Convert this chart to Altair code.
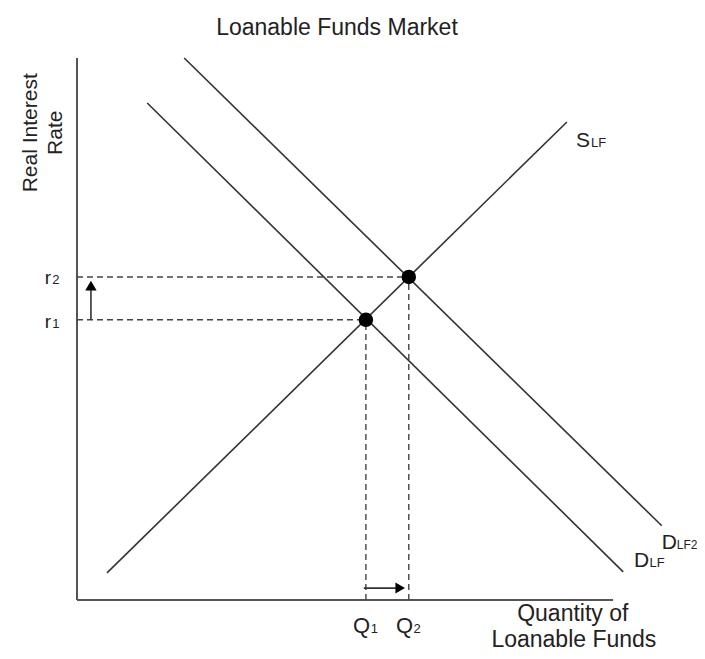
import altair as alt
import pandas as pd

# ---- curve end points (quantity, real interest rate) ----
supply_q = [5.6, 91.4]
supply_r = [5.0, 88.2]
demand1_q = [13.1, 101.9]
demand1_r = [91.7, 5.2]
demand2_q = [20.0, 109.1]
demand2_r = [100.0, 13.7]

# equilibrium points (E1, E2)
eq_q = [53.9, 61.9]
eq_r = [51.7, 59.6]

# shift arrows
rate_arrow_q = 2.6
rate_arrow_r = [51.7, 58.0]
qty_arrow_r = 2.2
qty_arrow_q = [53.5, 60.3]

# label texts
title_text = "Loanable Funds Market"
y_title = ["Real Interest", "Rate"]
x_title = ["Quantity of", "Loanable Funds"]

FONT = "Liberation Sans"
INK = "#222222"
LINE = "#333333"

xs = alt.Scale(domain=[0, 100], nice=False, zero=False)
ys = alt.Scale(domain=[0, 100], nice=False, zero=False)

curves = pd.DataFrame({
    "series": ["S"] * 2 + ["D1"] * 2 + ["D2"] * 2,
    "q": supply_q + demand1_q + demand2_q,
    "r": supply_r + demand1_r + demand2_r,
})
eq = pd.DataFrame({"q": eq_q, "r": eq_r})
axes_df = pd.DataFrame({"x": [0, 0], "x2": [0, 100], "y": [0, 0], "y2": [100, 0]})

X = lambda f: alt.X(f, type="quantitative", scale=xs, axis=None)
Y = lambda f: alt.Y(f, type="quantitative", scale=ys, axis=None)

axes = alt.Chart(axes_df).mark_rule(color="#555555", strokeWidth=2).encode(
    x=X("x"), x2="x2", y=Y("y"), y2="y2")

lines = alt.Chart(curves).mark_line(color=LINE, strokeWidth=1.6, clip=False).encode(
    x=X("q"), y=Y("r"), detail="series:N")

eq2 = eq.assign(zero=0.0)
hdash = alt.Chart(eq2).mark_rule(color="#444444", strokeWidth=1.4, strokeDash=[6, 4]).encode(
    x=X("zero"), x2="q", y=Y("r"))
vdash = alt.Chart(eq2).mark_rule(color="#444444", strokeWidth=1.4, strokeDash=[6, 4]).encode(
    x=X("q"), y=Y("zero"), y2="r")

dots = alt.Chart(eq).mark_circle(color="black", opacity=1, size=210).encode(
    x=X("q"), y=Y("r"))

up_df = pd.DataFrame({"q": [rate_arrow_q], "r": [rate_arrow_r[0]], "r2": [rate_arrow_r[1]]})
up_shaft = alt.Chart(up_df).mark_rule(color=LINE, strokeWidth=1.6).encode(
    x=X("q"), y=Y("r"), y2="r2")
up_head = alt.Chart(up_df).mark_point(shape="triangle-up", filled=True, color="black",
                                      opacity=1, size=130).encode(x=X("q"), y=Y("r2"))

rt_df = pd.DataFrame({"q": [qty_arrow_q[0]], "q2": [qty_arrow_q[1]], "r": [qty_arrow_r]})
rt_shaft = alt.Chart(rt_df).mark_rule(color=LINE, strokeWidth=1.6).encode(
    x=X("q"), x2="q2", y=Y("r"))
rt_head = alt.Chart(rt_df).mark_point(shape="triangle-right", filled=True, color="black",
                                      opacity=1, size=120).encode(x=X("q2"), y=Y("r"))

# letter labels with small subscripts (left-aligned, baseline)
main_lbl = pd.DataFrame({
    "t": ["S", "D", "D", "r", "r", "Q", "Q"],
    "x": [93.1, 109.1, 103.9, -6.0, -6.0, 51.5, 59.5],
    "y": [83.6, 9.4, 6.1, 58.3, 50.2, -6.1, -6.1],
    "fs": [21, 21, 21, 19, 19, 22, 22],
})
sub_lbl = pd.DataFrame({
    "t": ["LF", "LF2", "LF", "2", "1", "1", "2"],
    "x": [95.9, 111.9, 106.8, -4.6, -4.6, 54.8, 62.8],
    "y": [83.6, 9.4, 6.1, 58.3, 50.2, -6.1, -6.1],
    "fs": [13, 12, 13, 13, 13, 13, 13],
})
mains = alt.Chart(main_lbl).mark_text(align="left", baseline="alphabetic", font=FONT,
                                      color=INK).encode(
    x=X("x"), y=Y("y"), text="t:N", size=alt.Size("fs:Q", scale=None))
subs = alt.Chart(sub_lbl).mark_text(align="left", baseline="alphabetic", font=FONT,
                                    color=INK).encode(
    x=X("x"), y=Y("y"), text="t:N", size=alt.Size("fs:Q", scale=None))

center_lbl = pd.DataFrame({
    "t": [title_text] + x_title,
    "x": [48.5, 92.5, 92.7],
    "y": [104.2, -3.9, -8.7],
})
centers = alt.Chart(center_lbl).mark_text(align="center", baseline="alphabetic", font=FONT,
                                          color=INK, fontSize=23).encode(
    x=X("x"), y=Y("y"), text="t:N")

rot_lbl = pd.DataFrame({"t": y_title, "x": [-7.5, -2.8], "y": [86.2, 86.2]})
rots = alt.Chart(rot_lbl).mark_text(align="center", baseline="alphabetic", font=FONT,
                                    color=INK, fontSize=21, angle=270).encode(
    x=X("x"), y=Y("y"), text="t:N")

chart = alt.layer(
    axes, hdash, vdash, lines, dots, up_shaft, up_head, rt_shaft, rt_head,
    mains, subs, centers, rots,
).properties(
    width=536, height=542,
    autosize=alt.AutoSizeParams(type="none"),
    padding={"left": 69, "top": 50, "right": 84, "bottom": 51},
    background="white",
).configure_view(stroke=None)

chart.save("out.html", embed_options={"renderer": "svg", "actions": False})
